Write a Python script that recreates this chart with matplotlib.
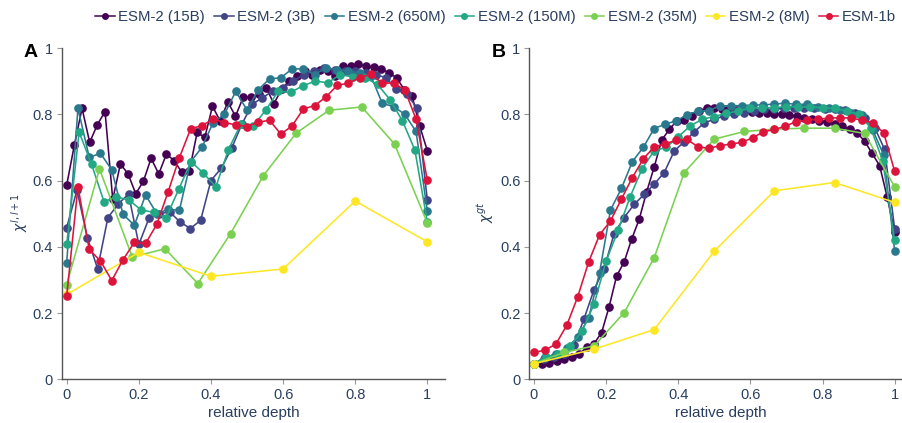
import numpy as np
import matplotlib
matplotlib.use("Agg")
import matplotlib.pyplot as plt
from matplotlib.lines import Line2D
from matplotlib.ticker import FuncFormatter

plt.rcParams['font.family'] = ['Liberation Sans', 'DejaVu Sans']
plt.rcParams['mathtext.fontset'] = 'dejavusans'

models = ["ESM-2 (15B)", "ESM-2 (3B)", "ESM-2 (650M)", "ESM-2 (150M)",
          "ESM-2 (35M)", "ESM-2 (8M)", "ESM-1b"]
colors = ["#440154", "#414487", "#2a788e", "#22a884", "#7ad151", "#fde725", "#dc143c"]

# chi between neighbouring layers (panel A)
adj_15b = [0.586, 0.707, 0.818, 0.715, 0.769, 0.808, 0.543, 0.650, 0.620, 0.560,
           0.598, 0.667, 0.620, 0.680, 0.660, 0.625, 0.630, 0.745, 0.730, 0.824,
           0.780, 0.837, 0.794, 0.851, 0.851, 0.860, 0.880, 0.832, 0.875, 0.900,
           0.915, 0.930, 0.920, 0.935, 0.930, 0.915, 0.945, 0.945, 0.952, 0.945,
           0.942, 0.937, 0.925, 0.910, 0.874, 0.856, 0.765, 0.690]
adj_3b = [0.458, 0.571, 0.428, 0.334, 0.488, 0.529, 0.559, 0.407, 0.487, 0.500,
          0.505, 0.475, 0.455, 0.480, 0.600, 0.637, 0.697, 0.770, 0.830, 0.850,
          0.870, 0.880, 0.900, 0.920, 0.930, 0.940, 0.935, 0.930, 0.930, 0.925,
          0.920, 0.910, 0.875, 0.860, 0.820, 0.541]
adj_650m = [0.352, 0.818, 0.670, 0.682, 0.632, 0.498, 0.465, 0.556, 0.500, 0.513,
            0.510, 0.657, 0.700, 0.775, 0.800, 0.869, 0.813, 0.874, 0.907, 0.910,
            0.937, 0.937, 0.920, 0.940, 0.935, 0.930, 0.925, 0.915, 0.833, 0.823,
            0.800, 0.748, 0.508]
adj_150m = [0.407, 0.746, 0.649, 0.536, 0.551, 0.541, 0.511, 0.504, 0.488, 0.573,
            0.657, 0.622, 0.581, 0.693, 0.770, 0.765, 0.812, 0.869, 0.866, 0.886,
            0.900, 0.895, 0.920, 0.912, 0.910, 0.890, 0.844, 0.780, 0.692, 0.475]
adj_35m = [0.286, 0.635, 0.369, 0.394, 0.289, 0.440, 0.615, 0.743, 0.812, 0.822,
           0.710, 0.472]
adj_8m = [0.256, 0.383, 0.311, 0.333, 0.538, 0.415]
adj_1b = [0.251, 0.581, 0.392, 0.357, 0.298, 0.361, 0.413, 0.410, 0.468, 0.566,
          0.669, 0.756, 0.766, 0.785, 0.775, 0.768, 0.763, 0.776, 0.782, 0.740,
          0.765, 0.816, 0.826, 0.852, 0.887, 0.894, 0.910, 0.922, 0.894, 0.894,
          0.874, 0.785, 0.601]

# chi against ground truth (panel B)
gt_15b = [0.047, 0.047, 0.050, 0.055, 0.060, 0.066, 0.076, 0.096, 0.108, 0.141,
          0.219, 0.312, 0.354, 0.423, 0.483, 0.566, 0.641, 0.722, 0.754, 0.780,
          0.784, 0.795, 0.810, 0.818, 0.820, 0.817, 0.815, 0.812, 0.810, 0.807,
          0.805, 0.804, 0.800, 0.800, 0.797, 0.795, 0.790, 0.785, 0.780, 0.777,
          0.772, 0.764, 0.754, 0.744, 0.719, 0.682, 0.645, 0.551, 0.445]
gt_3b = [0.047, 0.062, 0.067, 0.075, 0.103, 0.183, 0.271, 0.334, 0.440, 0.488,
         0.528, 0.558, 0.589, 0.624, 0.689, 0.717, 0.747, 0.774, 0.785, 0.795,
         0.800, 0.805, 0.810, 0.815, 0.815, 0.818, 0.820, 0.820, 0.818, 0.816,
         0.815, 0.812, 0.805, 0.790, 0.760, 0.694, 0.455]
gt_650m = [0.047, 0.067, 0.075, 0.093, 0.128, 0.185, 0.322, 0.511, 0.576, 0.657,
           0.700, 0.757, 0.770, 0.780, 0.798, 0.810, 0.811, 0.825, 0.826, 0.826,
           0.828, 0.828, 0.831, 0.833, 0.830, 0.830, 0.823, 0.818, 0.813, 0.805,
           0.798, 0.752, 0.677, 0.388]
gt_150m = [0.047, 0.067, 0.075, 0.100, 0.145, 0.227, 0.357, 0.450, 0.551, 0.636,
           0.690, 0.700, 0.732, 0.765, 0.785, 0.793, 0.803, 0.810, 0.818, 0.820,
           0.820, 0.823, 0.822, 0.822, 0.820, 0.818, 0.810, 0.800, 0.760, 0.660,
           0.420]
gt_35m = [0.047, 0.081, 0.101, 0.201, 0.367, 0.624, 0.725, 0.748, 0.755, 0.758,
          0.758, 0.742, 0.581]
gt_8m = [0.047, 0.091, 0.150, 0.387, 0.569, 0.594, 0.534]
gt_1b = [0.081, 0.088, 0.106, 0.163, 0.249, 0.354, 0.436, 0.478, 0.544, 0.609,
         0.665, 0.702, 0.710, 0.722, 0.724, 0.702, 0.697, 0.705, 0.710, 0.715,
         0.729, 0.747, 0.754, 0.764, 0.778, 0.782, 0.785, 0.789, 0.789, 0.789,
         0.782, 0.774, 0.744, 0.628]

panel_a = [adj_15b, adj_3b, adj_650m, adj_150m, adj_35m, adj_8m, adj_1b]
panel_b = [gt_15b, gt_3b, gt_650m, gt_150m, gt_35m, gt_8m, gt_1b]

TEXT = "#2a3f5f"
LINE = "#555555"

fig = plt.figure(figsize=(9.02, 4.23), dpi=100)
ax_a = fig.add_axes([62 / 902, 43.7 / 423, 383 / 902, 331.3 / 423])
ax_b = fig.add_axes([529.3 / 902, 43.7 / 423, 383 / 902, 331.3 / 423])


def style_axis(ax):
    ax.set_xlim(-0.013, 1.049)
    ax.set_ylim(0, 1)
    for side in ["top", "right"]:
        ax.spines[side].set_visible(False)
    for side in ["left", "bottom"]:
        ax.spines[side].set_color(LINE)
        ax.spines[side].set_linewidth(1.0)
    ticks = [0, 0.2, 0.4, 0.6, 0.8, 1]
    ax.set_xticks(ticks)
    ax.set_yticks(ticks)
    fmt = FuncFormatter(lambda v, p: "{:g}".format(round(v, 2)))
    ax.xaxis.set_major_formatter(fmt)
    ax.yaxis.set_major_formatter(fmt)
    ax.tick_params(direction="out", length=3.5, width=0.8, color="#999999",
                   labelcolor=TEXT, labelsize=10.5, pad=3)
    ax.set_xlabel("relative depth", color=TEXT, fontsize=11, labelpad=3)


for ax, series in [(ax_a, panel_a), (ax_b, panel_b)]:
    for vals, col in zip(series, colors):
        xs = np.linspace(0, 1, len(vals))
        ax.plot(xs, vals, color=col, lw=1.15, marker="o", ms=5.2, clip_on=False)
    style_axis(ax)

fig.text(20 / 902, 1 - 212 / 423, r"$\chi^{l,l+1}$", rotation=90, color=TEXT,
         fontsize=10, ha="center", va="center")
fig.text(486 / 902, 1 - 212 / 423, r"$\chi^{gt}$", rotation=90, color=TEXT,
         fontsize=10, ha="center", va="center")

fig.text(24 / 902, 1 - 57 / 423, "A", fontsize=14, fontweight="bold", color="black")
fig.text(492 / 902, 1 - 57 / 423, "B", fontsize=14, fontweight="bold", color="black")

handles = [Line2D([0], [0], color=c, lw=1.1, marker="o", ms=4) for c in colors]
fig.legend(handles, models, loc="center left", bbox_to_anchor=(95 / 902, 1 - 17 / 423),
           ncol=7, frameon=False, fontsize=10.8, handlelength=1.3, handletextpad=0.25,
           columnspacing=0.6, borderaxespad=0, borderpad=0, labelcolor=TEXT)

fig.savefig("out.png", dpi=100)
